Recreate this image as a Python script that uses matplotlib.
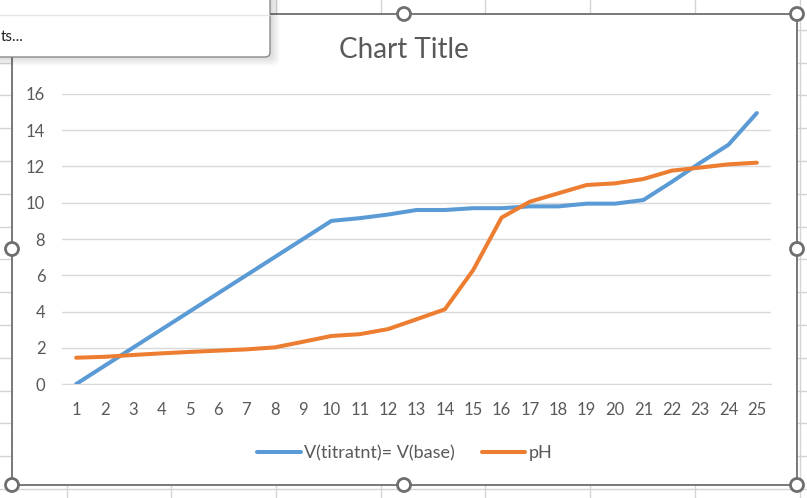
import numpy as np
import matplotlib
matplotlib.use("Agg")
import matplotlib.pyplot as plt
from matplotlib.patches import Rectangle, Circle, FancyBboxPatch

plt.rcParams['font.family'] = ['Lato', 'DejaVu Sans']

# data
x_cat = list(range(1, 26))
v_base = [0, 1, 2, 3, 4, 5, 6, 7, 8, 9, 9.15, 9.35, 9.6, 9.6, 9.7, 9.7, 9.8, 9.8,
          9.95, 9.95, 10.15, 11.15, 12.2, 13.2, 14.95]
ph = [1.45, 1.5, 1.6, 1.69, 1.77, 1.84, 1.91, 2.02, 2.33, 2.65, 2.75, 3.03, 3.57,
      4.12, 6.29, 9.18, 10.06, 10.52, 10.98, 11.07, 11.31, 11.77, 11.94, 12.12, 12.21]
y_ticks = [0, 2, 4, 6, 8, 10, 12, 14, 16]

W, H = 807, 498
BLUE, ORANGE, GREY = '#5B9BD5', '#ED7D31', '#595959'

fig = plt.figure(figsize=(W / 100, H / 100), dpi=100)

# --- spreadsheet background, in pixel coords ---
bg = fig.add_axes([0, 0, 1, 1], zorder=0)
bg.set_xlim(0, W)
bg.set_ylim(H, 0)
bg.axis('off')
for xc in [67, 171, 276, 381, 485, 590, 695, 800]:
    bg.plot([xc, xc], [0, H], color='#d4d4d4', lw=1, zorder=1)
for yr in np.arange(-3, H, 32.8):
    bg.plot([0, W], [yr, yr], color='#d4d4d4', lw=1, zorder=1)
bg.add_patch(Rectangle((12, 14), 785, 471, facecolor='white', edgecolor='#787878',
                       lw=1.4, zorder=3))

# --- the chart itself ---
ax = fig.add_axes([62 / W, 1 - 384 / H, 709 / W, 290 / H], zorder=2)
ax.set_facecolor('none')
ax.plot(x_cat, v_base, color=BLUE, lw=2.9, solid_capstyle='round',
        solid_joinstyle='round', label='V(titratnt)= V(base)', zorder=3)
ax.plot(x_cat, ph, color=ORANGE, lw=2.9, solid_capstyle='round',
        solid_joinstyle='round', label='pH', zorder=3)
ax.set_xlim(0.5, 25.5)
ax.set_ylim(0, 16)
ax.set_yticks(y_ticks)
ax.set_xticks(x_cat)
ax.grid(axis='y', color='#d9d9d9', lw=1)
ax.set_axisbelow(True)
for s in ['top', 'right', 'left']:
    ax.spines[s].set_visible(False)
ax.spines['bottom'].set_color('#d9d9d9')
ax.tick_params(length=0, colors=GREY, labelsize=12)
ax.tick_params(axis='y', pad=12)
ax.tick_params(axis='x', pad=13)

fig.text(404 / W, 1 - 50 / H, 'Chart Title', ha='center', va='center',
         fontsize=20, color=GREY)
fig.legend(loc='center', bbox_to_anchor=(405 / W, 1 - 453 / H), ncol=2,
           frameon=False, fontsize=13, labelcolor=GREY, handlelength=2.4,
           handletextpad=0.2, columnspacing=1.5)

# --- selection handles and context menu on top ---
ov = fig.add_axes([0, 0, 1, 1], zorder=5)
ov.set_xlim(0, W)
ov.set_ylim(H, 0)
ov.axis('off')
ov.set_facecolor('none')
for hx, hy in [(404, 14), (797, 14), (12, 249), (797, 249), (12, 485), (404, 485), (797, 485)]:
    ov.add_patch(Circle((hx, hy), 6.5, facecolor='white', edgecolor='#6e6e6e', lw=2))

for k in range(6):
    ov.add_patch(FancyBboxPatch((-10, -10), 282 + k * 1.5, 68 + k * 1.5,
                                boxstyle='round,pad=0,rounding_size=6',
                                facecolor='black', edgecolor='none', alpha=0.025))
ov.add_patch(FancyBboxPatch((-10, -10), 280, 67, boxstyle='round,pad=0,rounding_size=5',
                            facecolor='white', edgecolor='#8a8a8a', lw=1))
ov.plot([0, 269], [15, 15], color='#e6e6e6', lw=1)
ov.text(1, 37, 'ts...', ha='left', va='center', fontsize=11, color='#222222')

fig.savefig('out.png', dpi=100)
